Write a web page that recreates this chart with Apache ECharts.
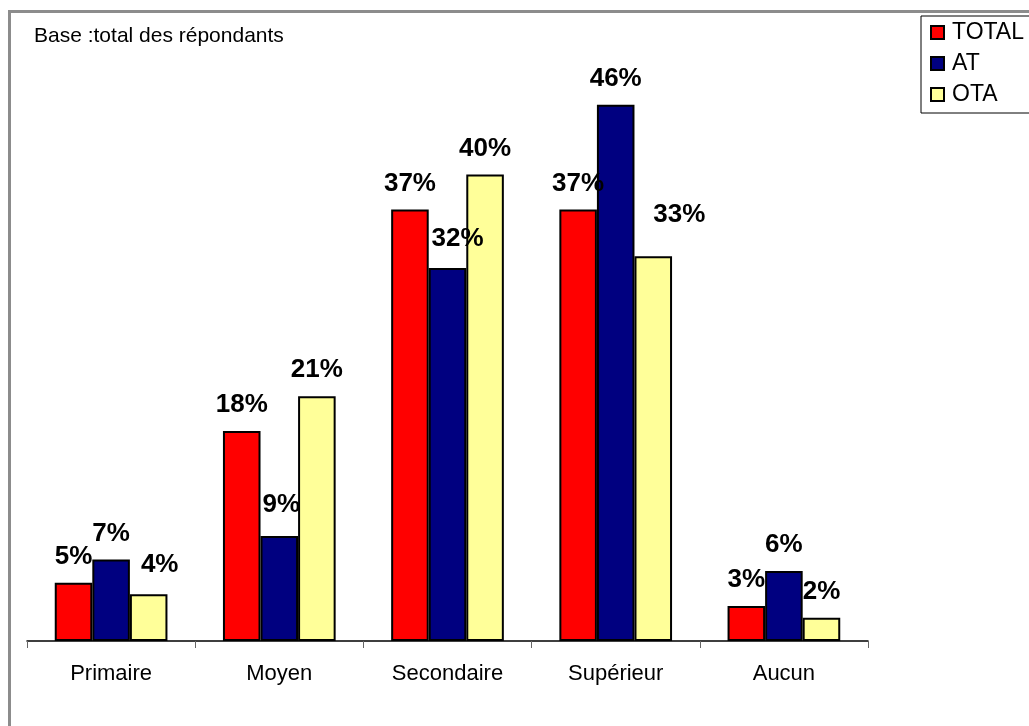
<!DOCTYPE html>
<html>
<head>
<meta charset="utf-8">
<title>Niveau d'instruction</title>
<script src="https://cdn.jsdelivr.net/npm/echarts@6/dist/echarts.min.js"></script>
<style>
  html, body { margin: 0; padding: 0; background: #fff; }
  #chart { width: 1029px; height: 726px; }
</style>
</head>
<body>
<div id="chart"></div>
<script>
// Niveau d'instruction, en % des répondants
const categories = ['Primaire', 'Moyen', 'Secondaire', 'Supérieur', 'Aucun'];
const seriesNames = ['TOTAL', 'AT', 'OTA'];
const totalValues = [5, 18, 37, 37, 3];
const atValues = [7, 9, 32, 46, 6];
const otaValues = [4, 21, 40, 33, 2];
const subtitle = 'Base :total des répondants';

const FONT = "'Liberation Sans', Arial, sans-serif";
const colors = ['#FF0000', '#000080', '#FFFF99'];

// Labels shifted sideways/up where they would otherwise collide with a neighbouring bar
const labelShift = {
  'AT|Moyen': [2, -5],
  'AT|Secondaire': [10, -3],
  'OTA|Primaire': [11, -4],
  'OTA|Supérieur': [26, -15]
};

function buildSeries(name, values, color) {
  return {
    name: name,
    type: 'bar',
    barGap: '0%',
    barCategoryGap: '33%',
    itemStyle: { color: color, borderColor: '#000', borderWidth: 2 },
    label: {
      show: true,
      position: 'top',
      distance: 13,
      formatter: '{c}%',
      color: '#000',
      fontFamily: FONT,
      fontWeight: 'bold',
      fontSize: 26
    },
    data: values.map(function (v, i) {
      const key = name + '|' + categories[i];
      const item = { value: v };
      if (labelShift[key]) item.label = { offset: labelShift[key] };
      return item;
    })
  };
}

const chart = echarts.init(document.getElementById('chart'), null, { renderer: 'canvas' });

chart.setOption({
  animation: false,
  backgroundColor: '#fff',
  textStyle: { fontFamily: FONT },
  title: {
    text: subtitle,
    left: 34,
    top: 26,
    padding: 0,
    textStyle: { fontFamily: FONT, fontSize: 21, fontWeight: 'normal', color: '#000' }
  },
  legend: {
    orient: 'vertical',
    left: 921,
    top: 16,
    padding: [5, 12, 7, 9],
    itemGap: 8,
    itemWidth: 13,
    itemHeight: 13,
    icon: 'rect',
    borderColor: '#000',
    borderWidth: 1,
    backgroundColor: '#fff',
    textStyle: { fontFamily: FONT, fontSize: 23, color: '#000', padding: [0, 0, 0, 3] },
    data: seriesNames
  },
  graphic: [{
    type: 'rect',
    silent: true,
    z: -1,
    shape: { x: 9.5, y: 11.5, width: 1200, height: 900 },
    style: { fill: null, stroke: '#8c8c8c', lineWidth: 3 }
  }],
  grid: { left: 27, right: 161, top: 58, bottom: 85 },
  xAxis: {
    type: 'category',
    data: categories,
    axisLine: { lineStyle: { color: '#000', width: 1.5 } },
    axisTick: { show: true, length: 7, lineStyle: { color: '#666' } },
    axisLabel: { margin: 22, color: '#000', fontFamily: FONT, fontSize: 22 }
  },
  yAxis: {
    type: 'value',
    min: 0,
    max: 50,
    show: false,
    splitLine: { show: false }
  },
  series: [
    buildSeries(seriesNames[0], totalValues, colors[0]),
    buildSeries(seriesNames[1], atValues, colors[1]),
    buildSeries(seriesNames[2], otaValues, colors[2])
  ]
});
</script>
</body>
</html>
